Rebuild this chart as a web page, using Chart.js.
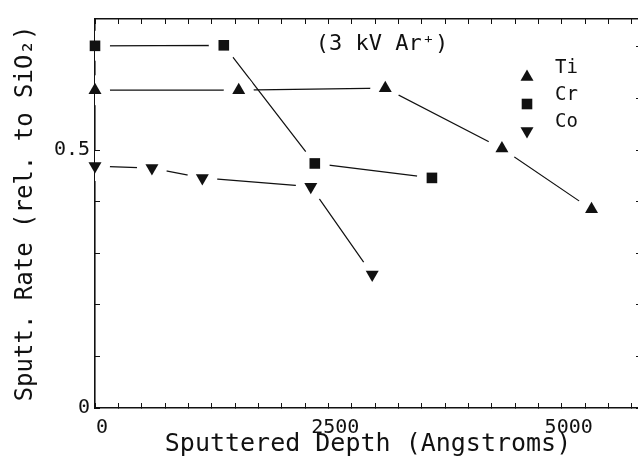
<!DOCTYPE html>
<html>
<head>
<meta charset="utf-8">
<script src="https://cdn.jsdelivr.net/npm/chart.js@4"></script>
<style>
  body { margin: 0; background: #fff; overflow: hidden; }
  canvas { display: block; }
</style>
</head>
<body>
<!-- canvas is a little wider than the window: the right frame of the plot sits just off the edge, as in the scan -->
<canvas id="sputter-chart" width="656" height="457"></canvas>
<script>
// values: depth in Angstroms, rate relative to SiO2
const seriesNames = ['Ti', 'Cr', 'Co'];
const tiDepth = [0, 1540, 3110, 4360, 5320];
const tiRate = [0.616, 0.616, 0.620, 0.503, 0.385];
const crDepth = [0, 1380, 2355, 3610];
const crRate = [0.702, 0.703, 0.474, 0.446];
const coDepth = [0, 610, 1150, 2312, 2970];
const coRate = [0.469, 0.465, 0.446, 0.429, 0.259];
const xTickLabels = [0, 2500, 5000];
const yTickLabels = [0, 0.5];

const plotFont = "'DejaVu Sans Mono', monospace";
const ink = '#111';

// marker shape for each series (Co is an upside-down triangle)
const markerShapes = [
    {pointStyle: 'triangle', rotation: 0},
    {pointStyle: 'rect', rotation: 0},
    {pointStyle: 'triangle', rotation: 180}
];

function toPoints(depths, rates){
    return depths.map((d, i) => ({x: d, y: rates[i]}));
}

const allPoints = [toPoints(tiDepth, tiRate), toPoints(crDepth, crRate), toPoints(coDepth, coRate)];

//Each series gets three layers: the line, a white halo that breaks the line near the markers, and the markers
const datasets = [];
for(let i = 0; i < seriesNames.length; i++){
    datasets.push({
        label: seriesNames[i] + ' line',
        data: allPoints[i],
        showLine: true,
        borderColor: ink,
        borderWidth: 1.2,
        pointRadius: 0,
        order: 3
    });
    datasets.push({
        label: seriesNames[i] + ' gap',
        data: allPoints[i],
        showLine: false,
        pointRadius: 15,
        pointStyle: 'circle',
        pointBackgroundColor: '#fff',
        pointBorderWidth: 0,
        order: 2
    });
    datasets.push({
        label: seriesNames[i],
        data: allPoints[i],
        showLine: false,
        pointStyle: markerShapes[i].pointStyle,
        rotation: markerShapes[i].rotation,
        pointRadius: 7.5,
        pointBackgroundColor: ink,
        pointBorderColor: ink,
        pointBorderWidth: 0,
        clip: false,
        order: 1
    });
}

//Draws the "(3 kV Ar+)" note and the small legend inside the plot
const plotNotes = {
    id: 'plotNotes',
    afterDraw(chart){
        const ctx = chart.ctx;
        ctx.save();
        ctx.fillStyle = ink;
        ctx.textBaseline = 'middle';
        ctx.textAlign = 'center';
        ctx.font = '22px ' + plotFont;
        ctx.fillText('(3 kV Ar\u207A)', 382, 44);

        ctx.textAlign = 'left';
        ctx.font = '19px ' + plotFont;
        for(let i = 0; i < seriesNames.length; i++){
            const y = 77 + i * 27;
            Chart.helpers.drawPoint(ctx, {
                pointStyle: markerShapes[i].pointStyle,
                rotation: markerShapes[i].rotation,
                radius: 7.5,
                borderWidth: 0
            }, 527, y);
            ctx.fillText(seriesNames[i], 555, y - 9);
        }
        ctx.restore();
    }
};

// ticks point inwards on all four sides of the frame
const tickGrid = {drawOnChartArea: false, tickLength: -5, color: ink, lineWidth: 1};
const frameBorder = {display: true, color: ink, width: 1.6};

const sputterChart = new Chart('sputter-chart', {
    type: 'scatter',
    data: {datasets: datasets},
    options: {
        responsive: false,
        animation: false,
        devicePixelRatio: 1,
        layout: {padding: 0},
        plugins: {
            legend: {display: false},
            tooltip: {enabled: false}
        },
        scales: {
            x: {
                type: 'linear',
                position: 'bottom',
                min: 0,
                max: 5850,
                z: 1,
                afterFit(scale){ scale.height = 49; },
                grid: tickGrid,
                border: frameBorder,
                ticks: {
                    stepSize: 250,
                    autoSkip: false,
                    maxRotation: 0,
                    includeBounds: false,
                    padding: 13,
                    labelOffset: 7,
                    color: ink,
                    font: {family: plotFont, size: 20},
                    callback: (value) => xTickLabels.includes(value) ? String(value) : ''
                },
                title: {
                    display: true,
                    text: 'Sputtered Depth (Angstroms)',
                    color: ink,
                    font: {family: plotFont, size: 25, lineHeight: 1},
                    padding: 0
                }
            },
            xTop: {
                type: 'linear',
                position: 'top',
                min: 0,
                max: 5850,
                z: 1,
                afterFit(scale){ scale.height = 19; },
                grid: tickGrid,
                border: frameBorder,
                ticks: {stepSize: 250, autoSkip: false, includeBounds: false, display: false}
            },
            y: {
                type: 'linear',
                position: 'left',
                min: 0,
                max: 0.754,
                z: 1,
                afterFit(scale){ scale.width = 95; },
                grid: tickGrid,
                border: frameBorder,
                ticks: {
                    stepSize: 0.1,
                    autoSkip: false,
                    includeBounds: false,
                    padding: 10,
                    color: ink,
                    font: {family: plotFont, size: 20, lineHeight: 0.5},
                    callback: (value) => yTickLabels.some((t) => Math.abs(t - value) < 1e-6) ? String(Math.round(value * 10) / 10) : ''
                },
                title: {
                    display: true,
                    text: 'Sputt. Rate (rel. to SiO\u2082)',
                    color: ink,
                    font: {family: plotFont, size: 24, lineHeight: 1},
                    padding: {top: 14, bottom: 0}
                }
            },
            yRight: {
                type: 'linear',
                position: 'right',
                min: 0,
                max: 0.754,
                z: 1,
                afterFit(scale){ scale.width = 7; },
                grid: tickGrid,
                border: frameBorder,
                ticks: {stepSize: 0.1, autoSkip: false, includeBounds: false, display: false}
            }
        }
    },
    plugins: [plotNotes]
});
</script>
</body>
</html>
